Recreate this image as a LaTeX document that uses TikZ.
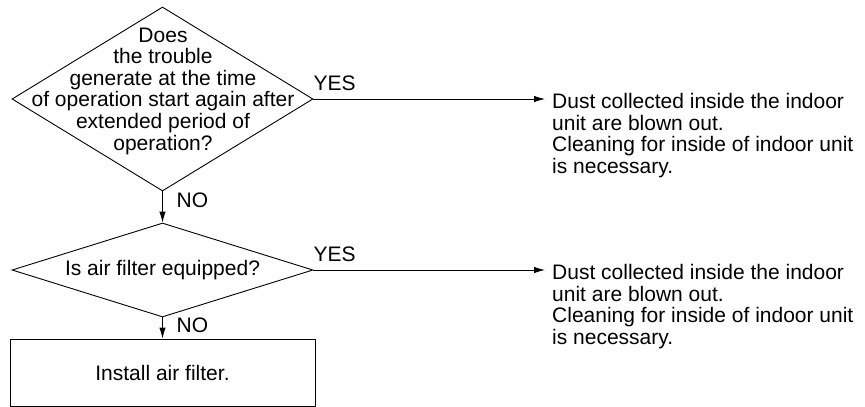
\documentclass[tikz,border=0pt]{standalone}
\usepackage{fontspec}
\setmainfont{Liberation Sans}
\usetikzlibrary{positioning,shapes.geometric,arrows.meta}

\begin{document}
\begin{tikzpicture}[
  x=1pt,y=-1pt,
  font=\fontsize{21}{21.6}\selectfont,
  decision/.style={diamond,draw,line width=0.9pt,inner sep=0pt,minimum width=301pt,minimum height=#1},
  action/.style={rectangle,draw,line width=0.9pt,minimum width=305pt,minimum height=67pt,align=center},
  result/.style={inner sep=0pt,align=left,anchor=north west},
  answer/.style={inner sep=0pt,anchor=base west},
  flow/.style={-{Latex[length=11pt,width=6.5pt]},line width=0.9pt}
]
  \useasboundingbox (0,0) rectangle (865,407);

  % questions
  \node[decision=184pt] (d1) at (162.5,99) {};
  \node[align=center,inner sep=0pt] (q1) at (163,91) {Does\\the trouble\\generate at the time\\of operation start again after\\extended period of\\operation?};
  \node[decision=94pt] (d2) at (162.5,270) {};
  \node[inner sep=0pt] (q2) at (d2.center) {Is air filter equipped?};
  \node[action] (fix) at (162.5,372.5) {Install air filter.};

  % NO branch
  \draw[flow] (d1.south) -- (d2.north);
  \draw[flow] (d2.south) -- (fix.north);
  \node[answer] at ([xshift=14pt,yshift=-16pt]d1.south) {NO};
  \node[answer] at ([xshift=14pt,yshift=-15pt]d2.south) {NO};

  % YES branch
  \coordinate (e1) at (545,99);
  \coordinate (e2) at (545,270);
  \draw[flow] (d1.east) -- (e1);
  \draw[flow] (d2.east) -- (e2);
  \node[answer] at ([yshift=9pt]d1.east) {YES};
  \node[answer] at ([yshift=9pt]d2.east) {YES};
  \node[result] (r1) at ([xshift=7pt,yshift=6pt]e1) {Dust collected inside the indoor\\unit are blown out.\\Cleaning for inside of indoor unit\\is necessary.};
  \node[result] (r2) at ([xshift=7pt,yshift=6pt]e2) {Dust collected inside the indoor\\unit are blown out.\\Cleaning for inside of indoor unit\\is necessary.};
\end{tikzpicture}
\end{document}
